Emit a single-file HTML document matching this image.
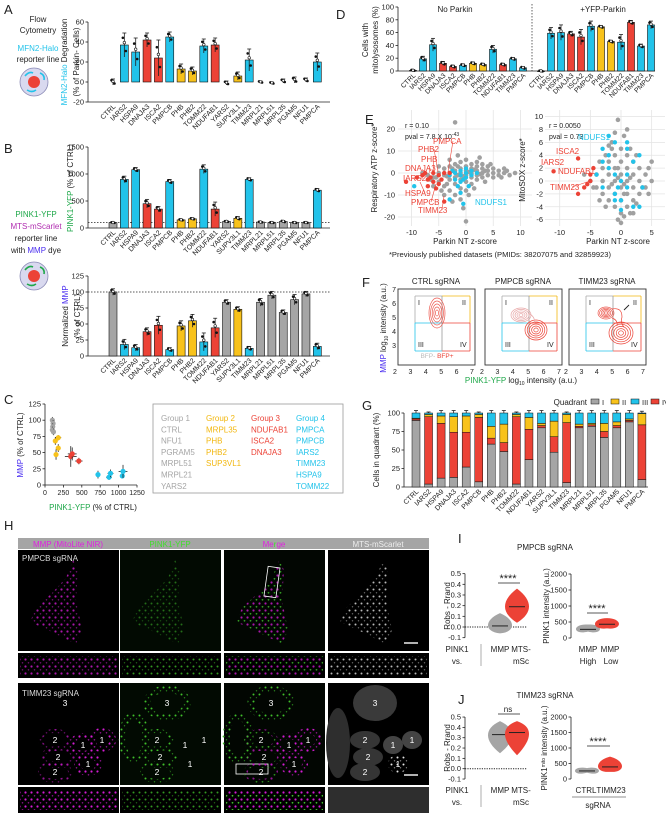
<!DOCTYPE html>
<html><head><meta charset="utf-8"><style>
html,body{margin:0;padding:0;background:#fff}
svg{display:block;font-family:"Liberation Sans",Arial,sans-serif}
</style></head><body>
<svg id="fig" width="666" height="815" viewBox="0 0 666 815">
<defs>
<pattern id="pm" width="6" height="7" patternUnits="userSpaceOnUse"><circle cx="1.5" cy="1.5" r="1.1" fill="#d21bd2"/><circle cx="4.5" cy="4.8" r="0.8" fill="#8a128a"/></pattern>
<pattern id="pg" width="6" height="7" patternUnits="userSpaceOnUse"><circle cx="1.5" cy="1.5" r="1" fill="#3fbf2a"/><circle cx="4.5" cy="4.8" r="0.7" fill="#2a8a1c"/></pattern>
<pattern id="pw" width="6" height="7" patternUnits="userSpaceOnUse"><circle cx="1.5" cy="1.5" r="1" fill="#e6e6e6"/><circle cx="4.5" cy="4.8" r="0.7" fill="#888"/></pattern>
<pattern id="pmg" width="6" height="7" patternUnits="userSpaceOnUse"><circle cx="1.5" cy="1.5" r="1.1" fill="#d21bd2"/><circle cx="4.5" cy="4.8" r="0.9" fill="#3fbf2a"/></pattern>
</defs>
</svg>
<script>
// ---------- data ----------
const cats = ["CTRL","IARS2","HSPA9","DNAJA3","ISCA2","PMPCB","PHB","PHB2","TOMM22","NDUFAB1","YARS2","SUPV3L1","TIMM23","MRPL21","MRPL51","MRPL35","PGAM5","NFU1","PMPCA"];
const groupOf = ["g","c","c","r","r","c","y","y","c","r","g","y","c","g","g","g","g","g","c"];
const valsA = [0,37,30,42,24,45,13,11,36,37,-1,6,22,0,-1,1,2,2,20];
const errA = [3,12,14,7,18,5,5,4,7,7,2,4,11,1,1,2,3,2,9];
const valsBtop = [100,900,1080,450,350,860,150,170,1090,350,120,180,900,110,100,120,100,100,700];
const errBtop = [10,60,40,80,50,40,15,15,80,130,10,30,30,8,8,20,8,8,30];
const valsBmmp = [100,18,13,38,48,10,47,55,22,44,84,73,12,84,95,68,88,97,15];
const errBmmp = [5,8,5,6,14,3,8,10,14,15,4,4,3,6,6,4,8,4,5];
const catsD = ["CTRL","IARS2","HSPA9","DNAJA3","ISCA2","PMPCB","PHB","PHB2","TOMM22","NDUFAB1","TIMM23","PMPCA"];
const grpD = ["g","c","c","r","r","c","y","y","c","r","c","c"];
const valsDno = [1,19,41,12,7,9,12,10,34,10,19,5];
const errDno = [1,4,10,3,2,2,2,2,6,2,2,2];
const valsDpk = [0,59,60,58,53,70,69,46,45,76,39,72];
const errDpk = [1,9,12,4,12,8,2,2,12,3,3,6];
const gI = [90,4,12,13,27,7,58,48,4,37,80,47,6,80,82,67,80,88,10];
const gIV = [2,91,74,61,47,87,8,12,91,41,3,21,81,2,2,8,3,2,74];
const gII = [1,3,10,21,22,4,16,25,3,16,3,21,11,3,2,11,5,2,15];
const gIII = [7,2,4,5,4,2,18,15,2,6,14,11,2,15,14,14,12,8,1];
const cX = [100,110,105,100,115,180,140,180,150,350,370,460,720,870,890,1050,1060];
const cY = [100,95,90,85,82,73,68,57,47,44,48,37,16,12,18,14,21];
const cXe = [10,10,10,10,10,40,30,30,30,80,60,50,30,40,40,30,60];
const cYe = [5,5,5,5,5,4,6,6,8,16,10,5,6,4,6,4,10];
const cG = ["g","g","g","g","g","y","y","y","y","r","r","r","c","c","c","c","c"];
const eLgx = [-6,-5,-5,-4,-4,-4,-3,-3,-3,-3,-2,-2,-2,-2,-2,-1,-1,-1,-1,-1,-1,0,0,0,0,0,0,1,1,1,1,1,2,2,2,2,2,3,3,3,3,4,4,4,5,5,5,6,6,7,7,8,9,-0.5,-1.5,-3,-5,-6,-4,-2.5,0.5,1.5,3.5,2.5,4.5,-7,-8,0,-2,-0.5,0.5,1,-1.5,1.5,2.5,3.5,-3.5,-2.5,-1.5,-6.5,-5.5,6.5,7.5,-4.5,-3.5];
const eLgy = [-2,0,-4,-1,2,-6,0,3,-3,-8,1,-2,4,-5,-10,0,2,-3,5,-7,-12,1,-1,3,-4,6,-8,0,2,-2,4,-5,1,-1,3,-3,5,0,2,-2,4,1,-1,3,0,2,-2,1,-1,0,2,-1,0,-16,8,6,3,-6,-10,-13,-10,-7,-4,7,4,-1,0,-22,23,-1.5,0.5,-0.5,-1,1.5,-0.5,1,-1.5,2,3,-3,-2,-2,1,-8,-5];
const eLcx = [-2,-1,-1,0,0,1,-2,0,1,-1,-3,2,-0.5,-1.5,-3,-0.5,-9.5,-1,0.5,-2.5];
const eLcy = [0,-1,1,0,-2,1,-3,2,-1,-4,-1,0,-3,-6,-12,-14,-6,-9,-6,1];
const eLrx = [-11,-9,-8,-7,-6,-6,-5,-5,-4,-7,-6.5,-5.5,-4.5,-4,-3,-7.5];
const eLry = [-4,-2,-1,-3,0,-4,-1,-5,0,-6,-2,-7,-3,-13,0,0];
const eRgx = [-4,-4,-3,-3,-3,-2,-2,-2,-2,-1,-1,-1,-1,-1,0,0,0,0,0,0,1,1,1,1,1,2,2,2,2,3,3,3,4,4,5,5,-5,-6,-0.5,-1.5,0.5,-0.5,0.5,-1.5,1.5,2.5,-2.5,-3.5,-3.5,-2.5,1.5,2.5,3.5,4.5,-0.5,0.5,-1.5,1.5,-0.5,0.5,-4.5,4.5,-2,2,0,-1,1];
const eRgy = [1,-1,2,0,-2,3,1,-1,-3,4,2,0,-2,-4,5,3,1,-1,-3,-5,4,2,0,-2,-4,3,1,-1,-3,2,0,-2,1,-1,3,0,0,1,9.5,6,7,-6,-5.5,5,5,4,4,3,-3,-4,-5,-3.5,-1,2,0.5,-0.5,-0.5,0.5,2,-2,-1,-2,5.5,-5,-6.5,7.5,8];
const eRcx = [-2,-1,1,-3,-2,-1,0,1,-1,0,2,-3,-4,2,3,0,-2,1,-0.5,3,3.5,-3,1,-1];
const eRcy = [7,6,5,3,2,1,0,-1,-2,-3,-4,-1,1,3,-4,-4.5,4,1,-1,4,-1,5,6,-3];
const eRrx = [-11,-7,-7,-6,-5,-5,-4.5,-5.5];
const eRry = [1.5,3.5,-2,-1,0,1,2,-0.5];
const iLeftMean = [0.01,0.19], iLeftMin=[-0.06,0.04], iLeftMax=[0.13,0.36];
const iRightMean = [270,430], iRightMin=[200,300], iRightMax=[420,620];
const jLeftMean = [0.33,0.35], jLeftMin=[0.15,0.13], jLeftMax=[0.46,0.46];
const jRightMean = [260,390], jRightMin=[200,230], jRightMax=[350,720];

// ---------- helpers ----------
const NS='http://www.w3.org/2000/svg';
const svg=document.getElementById('fig');
const COL={g:"#a5a5a5",c:"#22c3ea",r:"#ec4236",y:"#f8c21b",k:"#000"};
function add(tag,attrs,name,parent){
  const e=document.createElementNS(NS,tag);
  for(const k in attrs) e.setAttribute(k,attrs[k]);
  
  
  (parent||svg).appendChild(e);
  return e;
}
function T(x,y,s,name,o){
  o=o||{};
  const a={x:x,y:y,'font-size':o.fs||7,fill:o.fill||'#222','text-anchor':o.anchor||'start'};
  if(o.rot!==undefined) a.transform='rotate('+o.rot+' '+x+' '+y+')';
  const t=add('text',a,name);
  t.textContent=s;
  return t;
}
function RT(x,y,parts,name,o){
  o=o||{};
  const a={x:x,y:y,'font-size':o.fs||7,fill:'#222','text-anchor':o.anchor||'middle'};
  if(o.rot!==undefined) a.transform='rotate('+o.rot+' '+x+' '+y+')';
  const t=add('text',a,name);
  parts.forEach(p=>{const s=document.createElementNS(NS,'tspan');s.textContent=p[0];if(p[1])s.setAttribute('fill',p[1]);if(p[2])s.setAttribute('font-size',p[2]);if(p[3])s.setAttribute('dy',p[3]);t.appendChild(s);});
  return t;
}
function L(x1,y1,x2,y2,name,o){
  o=o||{};
  const a={x1:x1,y1:y1,x2:x2,y2:y2,stroke:o.stroke||'#222','stroke-width':o.w||0.8};
  if(o.dash) a['stroke-dasharray']=o.dash;
  return add('line',a,name);
}
function yAxis(x,ys,ticks,fmt,name){
  L(x,Math.min(...ticks.map(ys)),x,Math.max(...ticks.map(ys)),name+'-line');
  ticks.forEach(t=>{const y=ys(t);L(x-2.5,y,x,y,name+'-tick');T(x-4,y+2.5,fmt?fmt(t):String(t),name+'-label',{anchor:'end',fs:7.5});});
}
function catLabels(labels,xs,y,name,fs){
  labels.forEach((c,i)=>T(xs(i)+3,y,c,name,{anchor:'end',rot:-45,fs:fs||7}));
}
function bars(vals,errs,grp,xs,ys,base,bw,name){
  vals.forEach((v,i)=>{
    const x=xs(i),y0=ys(base),y=ys(v);
    if(grp[i]!=='n') add('rect',{x:x-bw/2,y:Math.min(y,y0),width:bw,height:Math.max(Math.abs(y0-y),0.6),fill:COL[grp[i]],stroke:'#111','stroke-width':0.6},name+'-bar');
    const e1=ys(v+errs[i]),e2=ys(v-errs[i]);
    L(x,e1,x,e2,name+'-errorbar',{w:0.8});
    L(x-2,e1,x+2,e1,name+'-errorcap',{w:0.8});
    add('circle',{cx:x-1.5,cy:ys(v+errs[i]*0.6),r:1.3,fill:'#111'},name+'-point');
    add('circle',{cx:x+1.5,cy:ys(v-errs[i]*0.5),r:1.3,fill:'#111'},name+'-point');
    add('circle',{cx:x,cy:ys(v+errs[i]*0.2),r:1.3,fill:'#fff',stroke:'#111','stroke-width':0.6},name+'-point');
  });
}
function cellIcon(cx,cy,name,col){
  add('circle',{cx:cx,cy:cy,r:14,fill:'#d9d9ef',stroke:'#8989b5','stroke-width':0.8},name);
  add('circle',{cx:cx,cy:cy,r:6,fill:'#ec4236'},name+'-nucleus');
  add('path',{d:`M${cx-9} ${cy-6} q4 -5 8 -3 M${cx+6} ${cy-9} q5 2 4 7 M${cx-7} ${cy+8} q5 3 9 0`,stroke:col,'stroke-width':1.6,fill:'none'},name+'-mito');
}

// ---------- Panel A ----------
T(4,14,'A','panel-a-letter',{fs:13});
T(38,22,'Flow','a-method',{anchor:'middle',fs:8});
T(38,33,'Cytometry','a-method',{anchor:'middle',fs:8});
T(38,51,'MFN2-Halo','a-reporter',{anchor:'middle',fs:8,fill:'#22c3ea'});
T(38,62,'reporter line','a-reporter',{anchor:'middle',fs:8});
cellIcon(34,82,'a-cell-icon','#22c3ea');
RT(67,62,[['MFN2-Halo','#22c3ea'],[' Degradation']],'a-y-axis-title',{rot:-90,fs:8});
RT(79,62,[['(% of Parkin- Cells)']],'a-y-axis-title',{rot:-90,fs:8});
const xA=i=>113+i*11.35, yA=v=>82-v*1.0;
yAxis(88,yA,[-20,0,20,40,60],null,'a-y-axis');
L(88,102,330,102,'a-x-axis');
bars(valsA,errA,groupOf.map(g=>g==='g'?'n':g),xA,yA,0,8,'a');
catLabels(cats,xA,107,'a-category-label');

// ---------- Panel B ----------
T(4,153,'B','panel-b-letter',{fs:13});
T(36,217,'PINK1-YFP','b-reporter',{anchor:'middle',fs:8,fill:'#1fa84a'});
T(36,229,'MTS-mScarlet','b-reporter',{anchor:'middle',fs:8,fill:'#b02db0'});
T(36,241,'reporter line','b-reporter',{anchor:'middle',fs:8});
RT(36,253,[['with '],['MMP','#4a2ef0'],[' dye']],'b-reporter',{fs:8});
cellIcon(34,276,'b-cell-icon','#1fa84a');
RT(73,188,[['PINK1-YFP','#1fa84a'],[' (% of CTRL)']],'b-top-y-axis-title',{rot:-90,fs:8});
const yB1=v=>228-v*81/1500;
yAxis(88,yB1,[0,500,1000,1500],null,'b-top-y-axis');
L(88,228,330,228,'b-top-x-axis');
L(88,yB1(100),330,yB1(100),'b-top-ref-line',{dash:'1.5,1.5'});
bars(valsBtop,errBtop,groupOf,xA,yB1,0,8,'b-top');
catLabels(cats,xA,233,'b-top-category-label');
RT(68,316,[['Normalized '],['MMP','#4a2ef0']],'b-mmp-y-axis-title',{rot:-90,fs:8});
T(80,316,'(% of CTRL)','b-mmp-y-axis-title',{rot:-90,fs:8,anchor:'middle'});
const yB2=v=>356-v*80/125;
yAxis(88,yB2,[0,25,50,75,100,125],null,'b-mmp-y-axis');
L(88,356,330,356,'b-mmp-x-axis');
L(88,yB2(100),330,yB2(100),'b-mmp-ref-line',{dash:'1.5,1.5'});
bars(valsBmmp,errBmmp,groupOf,xA,yB2,0,8,'b-mmp');
catLabels(cats,xA,361,'b-mmp-category-label');

// ---------- Panel C ----------
T(4,404,'C','panel-c-letter',{fs:13});
const xC=v=>45+v*92/1250, yC=v=>485-v*81/125;
yAxis(45,yC,[0,25,50,75,100,125],null,'c-y-axis');
L(45,485,137,485,'c-x-axis');
[0,250,500,750,1000,1250].forEach(t=>{L(xC(t),485,xC(t),487.5,'c-x-tick');T(xC(t),495,String(t),'c-x-label',{anchor:'middle',fs:7});});
RT(23,445,[['MMP','#4a2ef0'],[' (% of CTRL)']],'c-y-axis-title',{rot:-90,fs:8});
RT(93,510,[['PINK1-YFP','#1fa84a'],[' (% of CTRL)']],'c-x-axis-title',{fs:8});
cX.forEach((v,i)=>{
  const x=xC(v),y=yC(cY[i]);
  L(xC(v-cXe[i]),y,xC(v+cXe[i]),y,'c-x-errorbar');
  L(x,yC(cY[i]-cYe[i]),x,yC(cY[i]+cYe[i]),'c-y-errorbar');
  add('circle',{cx:x,cy:y,r:2.6,fill:COL[cG[i]]},'c-point');
});
add('rect',{x:153,y:404,width:190,height:89,fill:'#fff',stroke:'#999','stroke-width':0.8},'c-group-legend-box');
const legCols=[["Group 1","CTRL","NFU1","PGRAM5","MRPL51","MRPL21","YARS2"],["Group 2","MRPL35","PHB","PHB2","SUP3VL1"],["Group 3","NDUFAB1","ISCA2","DNAJA3"],["Group 4","PMPCA","PMPCB","IARS2","TIMM23","HSPA9","TOMM22"]];
const legColors=['#a5a5a5','#f2b70f','#ec4236','#22c3ea'];
legCols.forEach((c,j)=>c.forEach((s,k)=>T(161+j*45,421+k*11.3,s,'c-legend-entry',{fs:8,fill:legColors[j]})));

// ---------- Panel D ----------
T(336,19,'D','panel-d-letter',{fs:13});
T(368,40,'Cells with','d-y-axis-title',{rot:-90,fs:8,anchor:'middle'});
T(378,40,'mitolysosomes (%)','d-y-axis-title',{rot:-90,fs:8,anchor:'middle'});
const yD=v=>71-v*0.64, xD1=i=>413+i*10, xD2=i=>541+i*10;
yAxis(398,yD,[0,20,40,60,80,100],null,'d-y-axis');
L(398,71,655,71,'d-x-axis');
L(532,4,532,71,'d-divider',{dash:'1.5,1.5',w:0.7});
T(455,12,'No Parkin','d-no-parkin-title',{anchor:'middle',fs:8});
T(603,12,'+YFP-Parkin','d-parkin-title',{anchor:'middle',fs:8});
bars(valsDno,errDno,grpD,xD1,yD,0,7,'d-no-parkin');
bars(valsDpk,errDpk,grpD,xD2,yD,0,7,'d-parkin');
catLabels(catsD,xD1,76,'d-no-parkin-category-label',6.8);
catLabels(catsD,xD2,76,'d-parkin-category-label',6.8);

// ---------- Panel E ----------
T(365,124,'E','panel-e-letter',{fs:13});
const xEL=v=>466+v*5.45, yEL=v=>173-v*2.2;
const xER=v=>621+v*6.13, yER=v=>181-v*6.44;
[-10,-5,0,5,10].forEach(t=>{L(xEL(t),110,xEL(t),226,'e-left-gridline',{stroke:'#e4e4e4',w:0.8});T(xEL(t),235,String(t),'e-left-x-label',{anchor:'middle',fs:7.5});});
[-20,-10,0,10,20].forEach(t=>{L(398,yEL(t),532,yEL(t),'e-left-gridline',{stroke:'#e4e4e4',w:0.8});T(395,yEL(t)+2.5,String(t),'e-left-y-label',{anchor:'end',fs:7.5});});
[-10,-5,0,5].forEach(t=>{L(xER(t),110,xER(t),226,'e-right-gridline',{stroke:'#e4e4e4',w:0.8});T(xER(t),235,String(t),'e-right-x-label',{anchor:'middle',fs:7.5});});
[-6,-4,-2,0,2,4,6,8,10].forEach(t=>{L(545,yER(t),665,yER(t),'e-right-gridline',{stroke:'#e4e4e4',w:0.8});T(543,yER(t)+2.5,String(t),'e-right-y-label',{anchor:'end',fs:7.5});});
eLgx.forEach((v,i)=>add('circle',{cx:xEL(v),cy:yEL(eLgy[i]),r:2.3,fill:'#a0a0a0'},'e-left-gray-point'));
eLcx.forEach((v,i)=>add('circle',{cx:xEL(v),cy:yEL(eLcy[i]),r:2.2,fill:'#22c3ea'},'e-left-cyan-point'));
eLrx.forEach((v,i)=>add('circle',{cx:xEL(v),cy:yEL(eLry[i]),r:2.2,fill:'#ec4236'},'e-left-red-point'));
eRgx.forEach((v,i)=>add('circle',{cx:xER(v),cy:yER(eRgy[i]),r:2.3,fill:'#a0a0a0'},'e-right-gray-point'));
eRcx.forEach((v,i)=>add('circle',{cx:xER(v),cy:yER(eRcy[i]),r:2.2,fill:'#22c3ea'},'e-right-cyan-point'));
eRrx.forEach((v,i)=>add('circle',{cx:xER(v),cy:yER(eRry[i]),r:2.2,fill:'#ec4236'},'e-right-red-point'));
T(405,128,'r = 0.10','e-left-r',{fs:7});
RT(405,139,[['pval = 7.8 X 10'],['-43',null,'5','-3']],'e-left-pval',{anchor:'start'});
T(549,128,'r = 0.0050','e-right-r',{fs:7});
T(549,139,'pval = 0.73','e-right-pval',{fs:7});
const lblL=[['PMPCA',433,144,448,172],['PHB2',418,152,438,172],['PHB',421,162,434,172],['DNAJA3',405,171,430,173],['IARS2',403,181,412,178],['HSPA9',405,196,420,182],['PMPCB',411,205,436,184],['TIMM23',418,213,444,196]];
lblL.forEach(l=>{T(l[1],l[2],l[0],'e-left-gene-label',{fs:8,fill:'#ec4236'});L(l[1]+l[0].length*4,l[2]-3,l[3],l[4],'e-left-leader',{stroke:'#ec4236',w:0.6});});
T(475,205,'NDUFS1','e-left-ndufs1-label',{fs:8,fill:'#22c3ea'});
T(578,140,'NDUFS1','e-right-ndufs1-label',{fs:8,fill:'#22c3ea'});
T(556,154,'ISCA2','e-right-gene-label',{fs:8,fill:'#ec4236'});
T(541,165,'IARS2','e-right-gene-label',{fs:8,fill:'#ec4236'});
T(558,174,'NDUFAB1','e-right-gene-label',{fs:8,fill:'#ec4236'});
T(550,190,'TIMM23','e-right-gene-label',{fs:8,fill:'#ec4236'});
L(572,187,590,181,'e-right-leader',{stroke:'#ec4236',w:0.6});
T(465,244,'Parkin NT z-score','e-left-x-axis-title',{anchor:'middle',fs:8});
T(618,244,'Parkin NT z-score','e-right-x-axis-title',{anchor:'middle',fs:8});
T(377,168,'Respiratory ATP z-score*','e-left-y-axis-title',{rot:-90,anchor:'middle',fs:8});
T(525,170,'MitoSOX z-score*','e-right-y-axis-title',{rot:-90,anchor:'middle',fs:8});
T(500,257,'*Previously published datasets (PMIDs: 38207075 and 32859923)','e-footnote',{anchor:'middle',fs:7.6});

// ---------- Panel F ----------
T(362,287,'F','panel-f-letter',{fs:13});
const fx=[398,485,569], fTitles=['CTRL sgRNA','PMPCB sgRNA','TIMM23 sgRNA'];
fx.forEach((x0,k)=>{
  T(x0+38,284,fTitles[k],'f-panel-title',{anchor:'middle',fs:8});
  add('rect',{x:x0,y:289,width:77,height:76,fill:'#fff',stroke:'#333','stroke-width':0.9},'f-plot-frame');
  const qx=x0+44,qy=323,lx=x0+17,rx=x0+72,ty=296,by=351;
  L(lx,ty,lx,qy,'f-q1-border',{stroke:'#aaa'});L(lx,ty,qx,ty,'f-q1-border',{stroke:'#aaa'});
  L(qx,ty,rx,ty,'f-q2-border',{stroke:'#f2b70f'});L(rx,ty,rx,qy,'f-q2-border',{stroke:'#f2b70f'});
  L(lx,qy,qx,qy,'f-q3-border',{stroke:'#22c3ea'});L(lx,qy,lx,by,'f-q3-border',{stroke:'#22c3ea'});L(lx,by,qx,by,'f-q3-border',{stroke:'#22c3ea'});
  L(qx,qy,rx,qy,'f-q4-border',{stroke:'#ec4236'});L(rx,qy,rx,by,'f-q4-border',{stroke:'#ec4236'});L(qx,by,rx,by,'f-q4-border',{stroke:'#ec4236'});
  L(qx,ty,qx,by,'f-divider',{stroke:'#999'});
  T(lx+3,305,'I','f-quadrant-label',{fs:7});T(rx-8,305,'II','f-quadrant-label',{fs:7});
  T(lx+3,347,'III','f-quadrant-label',{fs:7});T(rx-10,347,'IV','f-quadrant-label',{fs:7});
  [2,3,4,5,6,7].forEach((t,i)=>T(x0-3+i*15.4,374,String(t),'f-x-label',{anchor:'middle',fs:7}));
  if(k===0)[7,6,5,4,3].forEach((t,i)=>T(x0-2,292+i*14,String(t),'f-y-label',{anchor:'end',fs:7}));
  const blobs=[[[437,313,8,15,'#ec5a50']],[[521,315,10,7,'#e8a8a8'],[536,330,11,10,'#ec4236']],[[606,313,8,6,'#ec5a50'],[621,333,12,11,'#ec4236']]][k];
  blobs.forEach(b=>{for(let r=1;r<=5;r++) add('ellipse',{cx:b[0],cy:b[1],rx:b[2]*r/5,ry:b[3]*r/5,fill:'none',stroke:b[4],'stroke-width':0.7},'f-contour');});
  if(k===1) add('path',{d:'M528 313 q8 4 6 10',fill:'none',stroke:'#e8a8a8','stroke-width':0.7},'f-contour-bridge');
  if(k===2){add('path',{d:'M612 309 q10 -2 10 8 q-2 6 2 10 M612 318 q6 2 5 8',fill:'none',stroke:'#ec4236','stroke-width':0.7},'f-contour-bridge');L(629,305,624,310,'f-arrow',{w:0.9});}
});
RT(437,358,[['BFP-','#bbb'],[' BFP+','#ec4236']],'f-bfp-legend',{fs:6.5});
RT(386,328,[['MMP','#4a2ef0'],[' log'],['10',null,'5','2'],[' intensity (a.u.)',null,null,'-2']],'f-y-axis-title',{rot:-90,fs:8});
RT(521,383,[['PINK1-YFP','#1fa84a'],[' log'],['10',null,'5','2'],[' intensity (a.u.)',null,null,'-2']],'f-x-axis-title',{fs:8});

// ---------- Panel G ----------
T(362,410,'G','panel-g-letter',{fs:13});
T(587,405,'Quadrant','g-legend-title',{anchor:'end',fs:8});
[['I','#a5a5a5'],['II','#f8c21b'],['III','#22c3ea'],['IV','#ec4236']].forEach((q,i)=>{
  add('rect',{x:591+i*20,y:399,width:8,height:5,fill:q[1],stroke:'#111','stroke-width':0.5},'g-legend-swatch');
  T(602+i*20,405,q[0],'g-legend-label',{fs:7.5});
});
T(379,450,'Cells in quadrant (%)','g-y-axis-title',{rot:-90,anchor:'middle',fs:8});
const xG=i=>416+i*12.55, yG=v=>487-v*0.74;
yAxis(404,yG,[0,25,50,75,100],null,'g-y-axis');
L(404,487,648,487,'g-x-axis');
cats.forEach((c,i)=>{
  let acc=0;
  [[gI,'g'],[gIV,'r'],[gII,'y'],[gIII,'c']].forEach(s=>{
    const v=s[0][i];
    add('rect',{x:xG(i)-4,y:yG(acc+v),width:8,height:v*0.74,fill:COL[s[1]],stroke:'#111','stroke-width':0.5},'g-stack-segment');
    if(v>2){L(xG(i),yG(acc+v),xG(i),yG(acc+v)-2.5,'g-errorbar');L(xG(i)-2,yG(acc+v)-2.5,xG(i)+2,yG(acc+v)-2.5,'g-errorcap');}
    acc+=v;
  });
});
catLabels(cats,xG,492,'g-category-label');

// ---------- Panel H ----------
T(4,530,'H','panel-h-letter',{fs:13});
const hx=[18,120,224,328], hw=101;
add('rect',{x:18,y:538,width:411,height:11,fill:'#a5a5a5'},'h-header-bar');
T(68,547,'MMP (MitoLite NIR)','h-col-mmp',{anchor:'middle',fs:8,fill:'#e020e0'});
T(170,547,'PINK1-YFP','h-col-pink1',{anchor:'middle',fs:8,fill:'#3fdf2a'});
RT(274,547,[['Me','#e020e0'],['r','#3fdf2a'],['ge','#e020e0']],'h-col-merge',{fs:8});
T(378,547,'MTS-mScarlet','h-col-mts',{anchor:'middle',fs:8,fill:'#eee'});
const fills=['url(#pm)','url(#pg)','url(#pmg)','url(#pw)'];
const bgs=['#000','#020a02','#020602','#000'];
const cellPts=[[55,10],[48,28],[35,42],[18,58],[12,72],[30,80],[58,94],[64,80],[58,50],[60,20]];
hx.forEach((x,k)=>{
  add('rect',{x:x,y:550,width:hw,height:101,fill:bgs[k]},'h-top-image');
  add('polygon',{points:cellPts.map(p=>(x+p[0])+','+(550+p[1])).join(' '),fill:fills[k],opacity:k===1?0.55:0.8},'h-top-cell');
  add('rect',{x:x,y:653,width:hw,height:25,fill:'#000'},'h-top-zoom-strip');
  add('rect',{x:x+2,y:656,width:hw-4,height:19,fill:fills[k],opacity:0.8},'h-top-zoom-signal');
  add('rect',{x:x,y:683,width:hw,height:102,fill:bgs[k]},'h-bottom-image');
  add('rect',{x:x,y:787,width:hw,height:26,fill:k===3?'#2e2e2e':'#000'},'h-bottom-zoom-strip');
});
T(22,561,'PMPCB sgRNA','h-top-row-label',{fs:8,fill:'#ddd'});
T(22,696,'TIMM23 sgRNA','h-bottom-row-label',{fs:8,fill:'#ddd'});
add('rect',{x:266,y:567,width:12,height:30,fill:'none',stroke:'#fff','stroke-width':0.8,transform:'rotate(8 272 582)'},'h-top-roi-box');
add('rect',{x:236,y:764,width:32,height:10,fill:'none',stroke:'#fff','stroke-width':0.8},'h-bottom-roi-box');
L(404,643,418,643,'h-top-scale-bar',{stroke:'#fff',w:1.4});
L(404,775,418,775,'h-bottom-scale-bar',{stroke:'#fff',w:1.4});
// bottom row cells: offsets relative to panel x
const c3=[47,20], c2=[[37,57],[40,74],[37,89]], c1=[[65,62],[84,57],[70,81]];
// mScarlet
[[c3,22,18,'#3a3a3a'],[[10,60],12,35,'#2e2e2e']].forEach(c=>add('ellipse',{cx:hx[3]+c[0][0],cy:683+c[0][1],rx:c[1],ry:c[2],fill:c[3]},'h-bottom-mts-cell'));
c2.forEach(p=>add('ellipse',{cx:hx[3]+p[0],cy:683+p[1],rx:15,ry:9,fill:'#353535'},'h-bottom-mts-cell'));
c1.forEach((p,i)=>add('ellipse',{cx:hx[3]+p[0],cy:683+p[1],rx:10,ry:9,fill:i===2?'url(#pw)':'#444'},'h-bottom-mts-cell'));
// MMP & merge magenta rings
c2.concat(c1).forEach((p,i)=>{
  [0,2].forEach(k=>add('ellipse',{cx:hx[k]+p[0],cy:683+p[1],rx:i<3?15:11,ry:i<3?9:9,fill:'none',stroke:(k===2&&i<3)?'url(#pmg)':'url(#pm)','stroke-width':i<3?4:6,opacity:i<3?0.7:1},'h-bottom-mmp-cell'));
});
// PINK1 green cells (2, 3 and left edge)
[[c3,20,14],[[14,55],12,22]].forEach(c=>[1,2].forEach(k=>add('ellipse',{cx:hx[k]+c[0][0],cy:683+c[0][1],rx:c[1],ry:c[2],fill:'none',stroke:'url(#pg)','stroke-width':7},'h-bottom-pink1-cell')));
c2.forEach(p=>add('ellipse',{cx:hx[1]+p[0],cy:683+p[1],rx:15,ry:9,fill:'none',stroke:'url(#pg)','stroke-width':4},'h-bottom-pink1-cell'));
hx.forEach((x,k)=>{
  T(x+c3[0],683+c3[1]+3,'3','h-cell-number',{fs:8.5,fill:'#fff',anchor:'middle'});
  c2.forEach(p=>T(x+p[0],683+p[1]+3,'2','h-cell-number',{fs:8.5,fill:'#fff',anchor:'middle'}));
  c1.forEach(p=>T(x+p[0],683+p[1]+3,'1','h-cell-number',{fs:8.5,fill:'#fff',anchor:'middle'}));
});
add('rect',{x:hx[0]+2,y:790,width:97,height:20,fill:'url(#pm)'},'h-bottom-zoom-signal');
add('rect',{x:hx[1]+2,y:790,width:97,height:20,fill:'url(#pg)',opacity:0.8},'h-bottom-zoom-signal');
add('rect',{x:hx[2]+2,y:790,width:97,height:20,fill:'url(#pmg)'},'h-bottom-zoom-signal');

// ---------- Panel I & J ----------
T(458,543,'I','panel-i-letter',{fs:13});
T(545,550,'PMPCB sgRNA','i-title',{anchor:'middle',fs:8});
T(458,704,'J','panel-j-letter',{fs:13});
T(545,698,'TIMM23 sgRNA','j-title',{anchor:'middle',fs:8});
function swarm(xs,mean,mn,mx,ys,cols,w,name){
  mean.forEach((m,i)=>{
    const x=xs[i],yT=ys(mx[i]),yB=ys(mn[i]),yM=ys(m);
    add('path',{d:`M${x} ${yT} C${x+w} ${yM-6} ${x+w} ${yM+6} ${x} ${yB} C${x-w} ${yM+6} ${x-w} ${yM-6} ${x} ${yT}Z`,fill:cols[i]},name+'-swarm');
    L(x-8,yM,x+8,yM,name+'-mean-line',{w:1});
  });
}
const yIL=v=>627-v*106.7, yIR=v=>638-v*0.032;
const yJL=v=>768.7-v*103.3, yJR=v=>779-v*0.031;
[[yIL,'i-left'],[yJL,'j-left']].forEach(a=>{
  yAxis(465,a[0],[-0.1,0,0.1,0.2,0.3,0.4,0.5],v=>v.toFixed(1),a[1]+'-y-axis');
  L(465,a[0](0),527,a[0](0),a[1]+'-zero-line',{dash:'1.2,1.2',w:1});
});
yAxis(571,yIR,[0,500,1000,1500,2000],null,'i-right-y-axis');
yAxis(571,yJR,[0,500,1000,1500,2000],null,'j-right-y-axis');
swarm([500,517],iLeftMean,iLeftMin,iLeftMax,yIL,['#a5a5a5','#ec4236'],16,'i-left');
swarm([588,607],iRightMean,iRightMin,iRightMax,yIR,['#a5a5a5','#ec4236'],16,'i-right');
swarm([500,517],jLeftMean,jLeftMin,jLeftMax,yJL,['#a5a5a5','#ec4236'],16,'j-left');
swarm([587,610],jRightMean,jRightMin,jRightMax,yJR,['#a5a5a5','#ec4236'],16,'j-right');
T(508,582,'****','i-left-significance',{anchor:'middle',fs:11});L(498,583,520,583,'i-left-sig-line');
T(597,612,'****','i-right-significance',{anchor:'middle',fs:11});L(587,613,608,613,'i-right-sig-line');
T(508,712,'ns','j-left-significance',{anchor:'middle',fs:8});L(498,714,520,714,'j-left-sig-line');
T(598,745,'****','j-right-significance',{anchor:'middle',fs:11});L(587,746,610,746,'j-right-sig-line');
T(450,606,'Robs - Rrand','i-left-y-axis-title',{rot:-90,anchor:'middle',fs:8});
T(450,748,'Robs - Rrand','j-left-y-axis-title',{rot:-90,anchor:'middle',fs:8});
T(549,606,'PINK1 intensity (a.u.)','i-right-y-axis-title',{rot:-90,anchor:'middle',fs:8});
RT(547,748,[['PINK1'],['mito',null,'5','-2'],[' intensity (a.u.)',null,null,'2']],'j-right-y-axis-title',{rot:-90,fs:8});
[[652,664,'i'],[793,805,'j']].forEach(r=>{
  T(457,r[0],'PINK1','xgroup-label',{anchor:'middle',fs:8});T(457,r[1],'vs.','xgroup-label',{anchor:'middle',fs:8});
  L(481,r[0]-8,481,r[1]+2,r[2]+'-separator',{stroke:'#999'});
  T(500,r[0],'MMP','xgroup-label',{anchor:'middle',fs:8});T(521,r[0],'MTS-','xgroup-label',{anchor:'middle',fs:8});T(521,r[1],'mSc','xgroup-label',{anchor:'middle',fs:8});
});
T(588,652,'MMP','i-right-x-label',{anchor:'middle',fs:8});T(610,652,'MMP','i-right-x-label',{anchor:'middle',fs:8});
T(588,664,'High','i-right-x-label',{anchor:'middle',fs:8});T(611,664,'Low','i-right-x-label',{anchor:'middle',fs:8});
T(586,793,'CTRL','j-right-x-label',{anchor:'middle',fs:8});T(611,793,'TIMM23','j-right-x-label',{anchor:'middle',fs:8});
L(572,797,626,797,'j-right-underline',{w:0.6});
T(598,808,'sgRNA','j-right-x-group',{anchor:'middle',fs:8});
</script>
</body></html>
